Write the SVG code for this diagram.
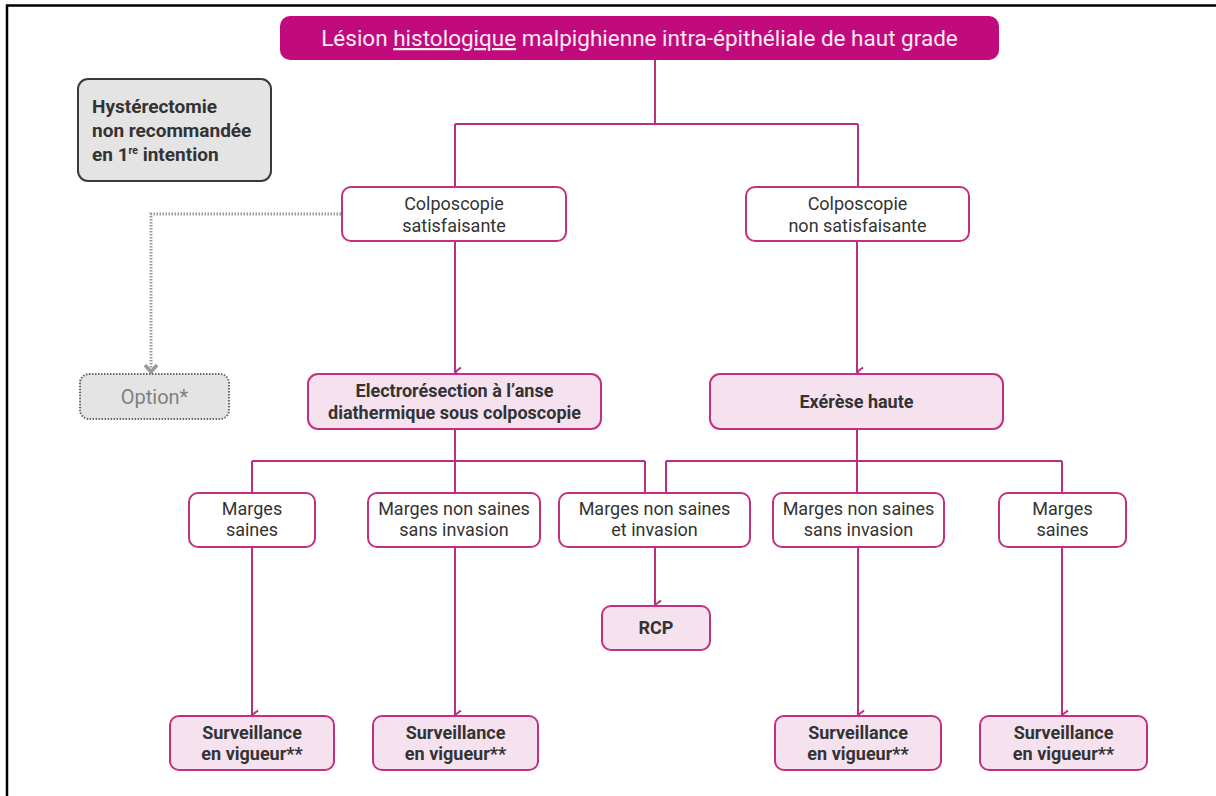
<svg xmlns="http://www.w3.org/2000/svg" width="1216" height="796" viewBox="0 0 1216 796">
<style>
  .frame{stroke:#000;stroke-width:2.5;fill:none}
  .conn{stroke:#b8307f;stroke-width:2;fill:none}
  .dot{stroke:#9a9a9a;stroke-width:3;stroke-dasharray:1.5 1.5;fill:none}
  .w{fill:#fff;stroke:#c2307f;stroke-width:2}
  .p{fill:#f6e2ef;stroke:#c2307f;stroke-width:2}
  .t{font-family:Roboto,"Liberation Sans",sans-serif;font-size:18px;fill:#333;text-anchor:middle}
  .b{font-weight:bold}
  .title{font-family:Roboto,"Liberation Sans",sans-serif;font-size:22.5px;fill:#fdeaf4;text-anchor:middle}
</style>
<defs>
  <marker id="arr" markerWidth="12" markerHeight="10" refX="6" refY="8" orient="auto-start-reverse" markerUnits="userSpaceOnUse" viewBox="0 0 12 10">
    <path d="M1.5,2 L6,8 L10.5,2" fill="none" stroke="#b8307f" stroke-width="2"/>
  </marker>
  <marker id="arrg" markerWidth="16" markerHeight="12" refX="8" refY="10" markerUnits="userSpaceOnUse" viewBox="0 0 16 12">
    <path d="M2,3 L8,10 L14,3" fill="none" stroke="#9a9a9a" stroke-width="3.5"/>
  </marker>
</defs>
<rect width="1216" height="796" fill="#fff"/>
<path class="frame" d="M7,796 V5.5 H1216"/>

<g id="connectors">
  <path class="conn" d="M655,60 V124 M455,124 H858 M455,124 V187 M858,124 V187"/>
  <path class="conn" d="M455,241 V372" marker-end="url(#arr)"/>
  <path class="conn" d="M857,241 V372" marker-end="url(#arr)"/>
  <path class="dot" d="M341,214 H151 V372" marker-end="url(#arrg)"/>
  <path class="conn" d="M455,429 V461 M252,461 H645 M252,461 V493 M455,461 V493 M645,461 V493"/>
  <path class="conn" d="M857,429 V461 M666,461 H1062 M666,461 V493 M857,461 V493 M1062,461 V493"/>
  <path class="conn" d="M655,547 V605" marker-end="url(#arr)"/>
  <path class="conn" d="M252,547 V715" marker-end="url(#arr)"/>
  <path class="conn" d="M455,547 V715" marker-end="url(#arr)"/>
  <path class="conn" d="M858,547 V715" marker-end="url(#arr)"/>
  <path class="conn" d="M1062,547 V715" marker-end="url(#arr)"/>
</g>

<g id="n-title">
  <rect x="280" y="16" width="719" height="44" rx="10" fill="#c10a7c"/>
  <text class="title" x="639.5" y="46">Lésion <tspan text-decoration="underline">histologique</tspan> malpighienne intra-épithéliale de haut grade</text>
</g>

<g id="n-hyst">
  <rect x="78" y="79" width="193" height="102" rx="10" fill="#e4e4e4" stroke="#3a3a3a" stroke-width="2"/>
  <text class="t b" style="text-anchor:start;font-size:19px" x="92" y="113">Hystérectomie</text>
  <text class="t b" style="text-anchor:start;font-size:19px" x="92" y="137">non recommandée</text>
  <text class="t b" style="text-anchor:start;font-size:19px" x="92" y="161">en 1<tspan font-size="10.5" dy="-7">re</tspan><tspan dy="7"> intention</tspan></text>
</g>

<g id="n-colpo-sat">
  <rect class="w" x="342" y="187" width="224" height="54" rx="9"/>
  <text class="t" x="454" y="210">Colposcopie</text>
  <text class="t" x="454" y="232">satisfaisante</text>
</g>

<g id="n-colpo-nonsat">
  <rect class="w" x="746" y="187" width="223" height="54" rx="9"/>
  <text class="t" x="857.5" y="210">Colposcopie</text>
  <text class="t" x="857.5" y="232">non satisfaisante</text>
</g>

<g id="n-option">
  <rect x="80" y="374" width="149" height="45" rx="9" fill="#e4e4e4" stroke="#666" stroke-width="2" stroke-dasharray="1.5 1.5"/>
  <text class="t" style="fill:#808080;font-size:20px" x="154.5" y="404">Option*</text>
</g>

<g id="n-electro">
  <rect class="p" x="308" y="374" width="293" height="55" rx="10"/>
  <text class="t b" x="454.5" y="397">Electrorésection à l’anse</text>
  <text class="t b" x="454.5" y="419">diathermique sous colposcopie</text>
</g>

<g id="n-exerese">
  <rect class="p" x="710" y="374" width="293" height="55" rx="10"/>
  <text class="t b" x="856.5" y="408">Exérèse haute</text>
</g>

<g id="n-ms1">
  <rect class="w" x="189" y="493" width="126" height="54" rx="9"/>
  <text class="t" x="252" y="515">Marges</text>
  <text class="t" x="252" y="536">saines</text>
</g>

<g id="n-mns1">
  <rect class="w" x="368" y="493" width="172" height="54" rx="9"/>
  <text class="t" x="454" y="515">Marges non saines</text>
  <text class="t" x="454" y="536">sans invasion</text>
</g>

<g id="n-mnsi">
  <rect class="w" x="559" y="493" width="191" height="54" rx="9"/>
  <text class="t" x="654.5" y="515">Marges non saines</text>
  <text class="t" x="654.5" y="536">et invasion</text>
</g>

<g id="n-mns2">
  <rect class="w" x="773" y="493" width="171" height="54" rx="9"/>
  <text class="t" x="858.5" y="515">Marges non saines</text>
  <text class="t" x="858.5" y="536">sans invasion</text>
</g>

<g id="n-ms2">
  <rect class="w" x="999" y="493" width="127" height="54" rx="9"/>
  <text class="t" x="1062.5" y="515">Marges</text>
  <text class="t" x="1062.5" y="536">saines</text>
</g>

<g id="n-rcp">
  <rect class="p" x="602" y="606" width="108" height="44" rx="9"/>
  <text class="t b" x="656" y="634">RCP</text>
</g>

<g id="n-surv1">
  <rect class="p" x="170" y="716" width="164" height="54" rx="9"/>
  <text class="t b" x="252" y="739">Surveillance</text>
  <text class="t b" x="252" y="760">en vigueur**</text>
</g>

<g id="n-surv2">
  <rect class="p" x="373" y="716" width="165" height="54" rx="9"/>
  <text class="t b" x="455.5" y="739">Surveillance</text>
  <text class="t b" x="455.5" y="760">en vigueur**</text>
</g>

<g id="n-surv3">
  <rect class="p" x="775" y="716" width="166" height="54" rx="9"/>
  <text class="t b" x="858" y="739">Surveillance</text>
  <text class="t b" x="858" y="760">en vigueur**</text>
</g>

<g id="n-surv4">
  <rect class="p" x="980" y="716" width="167" height="54" rx="9"/>
  <text class="t b" x="1063.5" y="739">Surveillance</text>
  <text class="t b" x="1063.5" y="760">en vigueur**</text>
</g>
</svg>
